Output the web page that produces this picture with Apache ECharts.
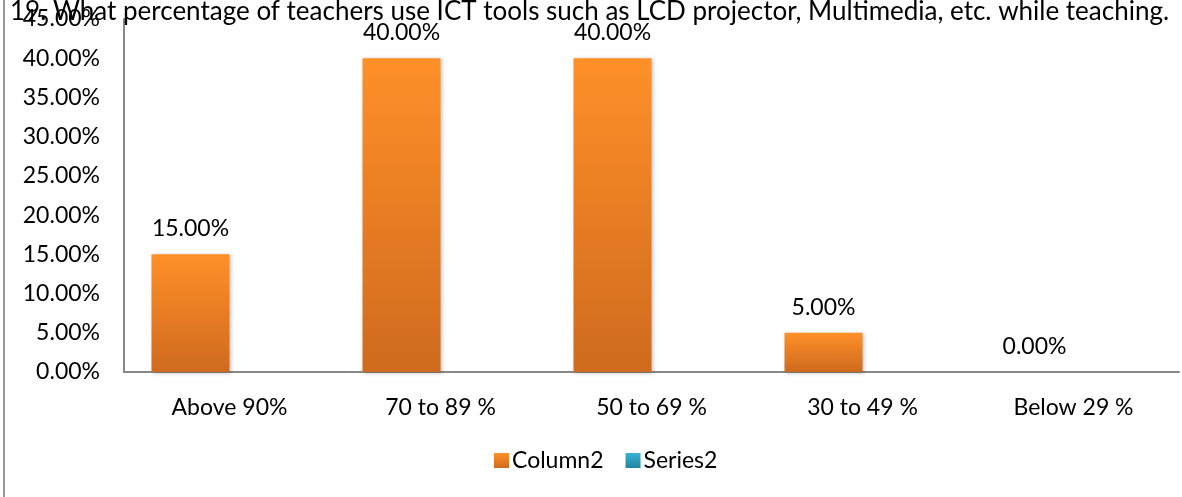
<!DOCTYPE html>
<html>
<head>
<meta charset="utf-8">
<script src="https://cdn.jsdelivr.net/npm/echarts@6/dist/echarts.min.js"></script>
<style>
  html, body { margin: 0; padding: 0; background: #fff; }
  #chart { width: 1182px; height: 497px; }
</style>
</head>
<body>
<div id="chart"></div>
<script>
// data
const categories = ["Above 90%", "70 to 89 %", "50 to 69 %", "30 to 49 %", "Below 29 %"];
const column2 = [15, 40, 40, 5, 0];
const series2 = ["-", "-", "-", "-", "-"];
const yTicks = { min: 0, max: 45, interval: 5 };

const font = "Lato, 'Open Sans', sans-serif";

let myChart = echarts.init(document.getElementById("chart"));
myChart.setOption({
  animation: false,
  title: {
    text: "19. What percentage of teachers use ICT tools such as LCD projector, Multimedia, etc. while teaching.",
    left: 5,
    top: -6,
    textStyle: { fontFamily: font, fontSize: 26, fontWeight: "normal", color: "#000" }
  },
  graphic: [
    { type: "line", shape: { x1: 4, y1: 0, x2: 4, y2: 497 }, style: { stroke: "#999", lineWidth: 2 } }
  ],
  legend: {
    data: ["Column2", "Series2"],
    bottom: 20,
    left: 489,
    itemWidth: 15,
    itemHeight: 15,
    itemGap: 22,
    icon: "rect",
    textStyle: { fontFamily: font, fontSize: 23, color: "#000", padding: [0, 0, 0, -2] }
  },
  grid: { left: 124, right: 3, top: 19, bottom: 125 },
  xAxis: {
    type: "category",
    data: categories,
    axisLine: { lineStyle: { color: "#888", width: 2 } },
    axisTick: { show: false },
    axisLabel: { fontFamily: font, fontSize: 23, color: "#000", margin: 24 }
  },
  yAxis: {
    type: "value",
    min: yTicks.min,
    max: yTicks.max,
    interval: yTicks.interval,
    splitLine: { show: false },
    axisLine: { show: true, lineStyle: { color: "#888", width: 2 } },
    axisTick: { show: false },
    axisLabel: {
      fontFamily: font, fontSize: 23, color: "#000", margin: 24,
      formatter: v => v.toFixed(2) + "%"
    }
  },
  series: [
    {
      name: "Column2",
      type: "bar",
      barWidth: 78,
      barGap: "0%",
      data: column2,
      itemStyle: {
        color: new echarts.graphic.LinearGradient(0, 0, 0, 1, [
          { offset: 0, color: "#FF9029" },
          { offset: 1, color: "#CF6A1E" }
        ]),
        shadowColor: "rgba(0,0,0,0.25)",
        shadowBlur: 4,
        shadowOffsetX: 1,
        shadowOffsetY: 1
      },
      label: {
        show: true,
        position: "top",
        distance: 14,
        fontFamily: font,
        fontSize: 23,
        color: "#000",
        formatter: p => p.value.toFixed(2) + "%"
      }
    },
    {
      name: "Series2",
      type: "bar",
      barWidth: 78,
      data: series2,
      itemStyle: {
        color: new echarts.graphic.LinearGradient(0, 0, 0, 1, [
          { offset: 0, color: "#35B3D6" },
          { offset: 1, color: "#23859F" }
        ])
      }
    }
  ]
});
</script>
</body>
</html>
